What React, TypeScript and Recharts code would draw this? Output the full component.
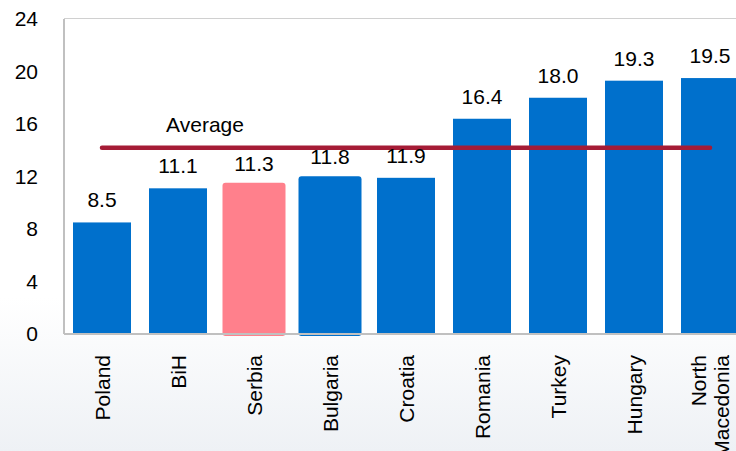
import React from 'react';
import { ComposedChart, Bar, Line, XAxis, YAxis, CartesianGrid, LabelList, Cell } from 'recharts';

const countries = ['Poland', 'BiH', 'Serbia', 'Bulgaria', 'Croatia', 'Romania', 'Turkey', 'Hungary', 'North Macedonia'];
const values = [8.5, 11.1, 11.3, 11.8, 11.9, 16.4, 18.0, 19.3, 19.5];
const average = 14.2;
const yTicks = [0, 4, 8, 12, 16, 20, 24];
const highlighted = ['Serbia'];
const emphasised = ['Serbia', 'Bulgaria'];

const BLUE = '#0070CC';
const PINK = '#FF808C';
const AVG = '#A51C36';
const GRID = '#C0C0C0';
const FONT = '"Liberation Sans", Arial, sans-serif';
const FS = 21;

const data = countries.map((name, i) => ({ name, value: values[i], avg: average }));

function CountryTick(props: any) {
  const { x, y, payload } = props;
  const words = String(payload.value).split(' ');
  const lines = words.length > 1 ? words : [payload.value];
  const gap = 23;
  const start = -((lines.length - 1) * gap) / 2;
  return (
    <g>
      {lines.map((line: string, i: number) => {
        const cx = x + start + i * gap;
        const cy = y + 13;
        return (
          <text
            key={i}
            x={cx}
            y={cy}
            transform={`rotate(-90, ${cx}, ${cy})`}
            textAnchor="end"
            dominantBaseline="central"
            fontSize={FS}
            fontFamily={FONT}
            fill="#000"
          >
            {line}
          </text>
        );
      })}
    </g>
  );
}

function BarShape(props: any) {
  const { x, y, width, height, fill, payload } = props;
  if (emphasised.includes(payload.name)) {
    return <rect x={x - 2.5} y={y - 3} width={width + 5} height={height + 5} rx={3} ry={3} fill={fill} />;
  }
  return <rect x={x} y={y} width={width} height={height} fill={fill} />;
}

function AverageLabel(props: any) {
  const { x, y, index } = props;
  if (index !== 1) return null;
  return (
    <text x={x + 27} y={y - 16} textAnchor="middle" fontSize={FS} fontFamily={FONT} fill="#000">
      Average
    </text>
  );
}

export default function App() {
  return (
    <div
      style={{
        position: 'absolute',
        left: 0,
        top: 0,
        width: 736,
        height: 451,
        overflow: 'hidden',
        background: 'linear-gradient(to bottom, #ffffff 0%, #ffffff 66%, #eef1f5 100%)',
      }}
    >
      <ComposedChart width={748} height={451} data={data} margin={{ top: 19, right: 0, left: 0, bottom: 0 }}>
        <rect x={64} y={19} width={684} height={315} fill="#fff" />
        <CartesianGrid vertical={false} stroke={GRID} strokeWidth={1.5} />
        <XAxis
          dataKey="name"
          interval={0}
          height={117}
          tickLine={false}
          axisLine={{ stroke: GRID, strokeWidth: 2 }}
          tick={<CountryTick />}
        />
        <YAxis
          width={64}
          domain={[0, 24]}
          ticks={yTicks}
          tickLine={false}
          axisLine={{ stroke: GRID, strokeWidth: 2 }}
          tickMargin={20}
          tick={{ fontSize: FS, fontFamily: FONT, fill: '#000' }}
        />
        <Bar dataKey="value" barSize={58} isAnimationActive={false} shape={<BarShape />}>
          {data.map((d, i) => (
            <Cell key={`cell-${i}`} fill={highlighted.includes(d.name) ? PINK : BLUE} />
          ))}
          <LabelList
            dataKey="value"
            position="top"
            offset={15}
            formatter={(v: any) => Number(v).toFixed(1)}
            style={{ fontSize: FS, fontFamily: FONT, fill: '#000' }}
          />
        </Bar>
        <Line
          dataKey="avg"
          stroke={AVG}
          strokeWidth={4.5}
          strokeLinecap="round"
          dot={false}
          activeDot={false}
          isAnimationActive={false}
        >
          <LabelList dataKey="avg" content={<AverageLabel />} />
        </Line>
      </ComposedChart>
    </div>
  );
}
